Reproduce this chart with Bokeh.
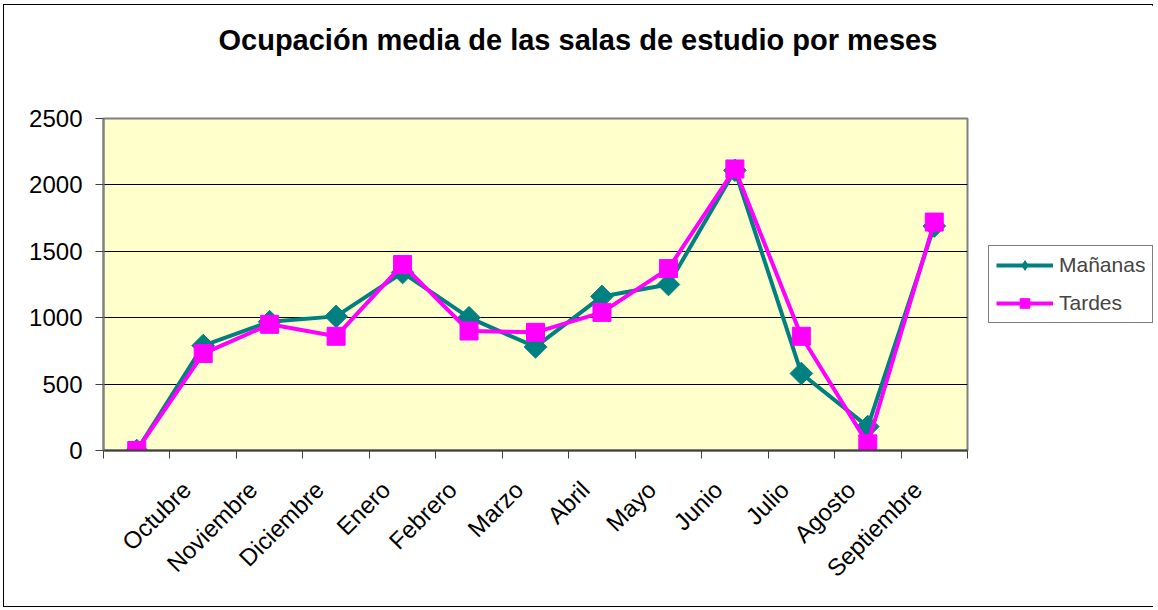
import math
from bokeh.plotting import figure
from bokeh.models import Range1d, FixedTicker, Legend, LegendItem, Title
from bokeh.embed import file_html
from bokeh.resources import INLINE

# ---- data ----
categorias = ["", "Octubre", "Noviembre", "Diciembre", "Enero", "Febrero", "Marzo",
              "Abril", "Mayo", "Junio", "Julio", "Agosto", "Septiembre"]
mananas = [0, 790, 970, 1010, 1340, 1000, 780, 1160, 1250, 2110, 580, 180, 1690]
tardes = [0, 730, 950, 860, 1400, 900, 890, 1040, 1370, 2120, 860, 50, 1720]
y_ticks = [0, 500, 1000, 1500, 2000, 2500]
titulo = "Ocupación media de las salas de estudio por meses"

n = len(categorias)
xs = [i + 0.5 for i in range(n)]
label_pos = [x - 0.25 for x in xs]   # rotated labels sit left of the category centre

FONT = "Liberation Sans"

p = figure(width=1150, height=601, frame_width=864, frame_height=332,
           x_range=Range1d(0, n), y_range=Range1d(0, 2500),
           output_backend="svg", toolbar_location=None,
           min_border_left=99, min_border_right=187,
           min_border_top=113, min_border_bottom=156)
p.styles = {"margin-left": "3px", "margin-top": "4px", "border": "1px solid black",
            "max-width": "1150px"}

p.background_fill_color = "#FFFFCC"
p.border_fill_color = "white"
p.outline_line_color = "#808080"
p.outline_line_width = 2

# title (a spacer title keeps the real one high above the frame)
p.title.text = ""
spacer = Title(text=" ", text_font_size="1px", standoff=55)
p.add_layout(spacer, "above")
title = Title(text=titulo, text_font=FONT, text_font_size="29px",
              text_font_style="bold", text_color="black",
              align="left", offset=115, standoff=10)
p.add_layout(title, "above")

# grid
p.xgrid.grid_line_color = None
p.ygrid.ticker = FixedTicker(ticks=y_ticks)
p.ygrid.grid_line_color = "black"
p.ygrid.grid_line_width = 1

# y axis
p.yaxis.ticker = FixedTicker(ticks=y_ticks)
p.yaxis.axis_line_color = "#808080"
p.yaxis.axis_line_width = 2
p.yaxis.major_tick_line_color = "#404040"
p.yaxis.major_tick_out = 8
p.yaxis.major_tick_in = 0
p.yaxis.minor_tick_line_color = None
p.yaxis.major_label_standoff = 13
p.yaxis.major_label_text_font = FONT
p.yaxis.major_label_text_font_size = "24px"
p.yaxis.major_label_text_color = "black"

# x axis
p.xaxis.ticker = FixedTicker(ticks=label_pos, minor_ticks=list(range(n + 1)))
p.xaxis.major_label_overrides = {x: c for x, c in zip(label_pos, categorias)}
p.xaxis.axis_line_color = "#404040"
p.xaxis.axis_line_width = 2
p.xaxis.major_tick_line_color = None
p.xaxis.minor_tick_line_color = "#404040"
p.xaxis.minor_tick_out = 8
p.xaxis.minor_tick_in = 0
p.xaxis.major_label_orientation = math.pi / 4
p.xaxis.major_label_standoff = 27
p.xaxis.major_label_text_font = FONT
p.xaxis.major_label_text_font_size = "24px"
p.xaxis.major_label_text_color = "black"

TEAL = "#008080"
MAGENTA = "#FF00FF"

l1 = p.line(xs, mananas, line_color=TEAL, line_width=4)
# diamond (hidden under the rotated squares) provides the legend swatch
d1 = p.scatter(xs, mananas, marker="diamond", size=16, fill_color=TEAL, line_color=TEAL)
s1 = p.scatter(xs, mananas, marker="square", angle=math.pi / 4, size=16,
               fill_color=TEAL, line_color=TEAL)
l2 = p.line(xs, tardes, line_color=MAGENTA, line_width=4)
s2 = p.scatter(xs, tardes, marker="square", size=18,
               fill_color=MAGENTA, line_color=MAGENTA)

legend = Legend(items=[LegendItem(label="Mañanas", renderers=[l1, d1]),
                       LegendItem(label="Tardes", renderers=[l2, s2])],
                location="left")
legend.label_text_font = FONT
legend.label_text_font_size = "21px"
legend.border_line_color = "black"
legend.border_line_width = 1
legend.background_fill_color = "white"
legend.background_fill_alpha = 1.0
legend.padding = 7
legend.spacing = 14
legend.margin = 21
legend.glyph_width = 57
legend.glyph_height = 24
legend.label_height = 24
legend.label_standoff = 6
p.add_layout(legend, "right")

open("out.html", "w").write(file_html(p, INLINE))
